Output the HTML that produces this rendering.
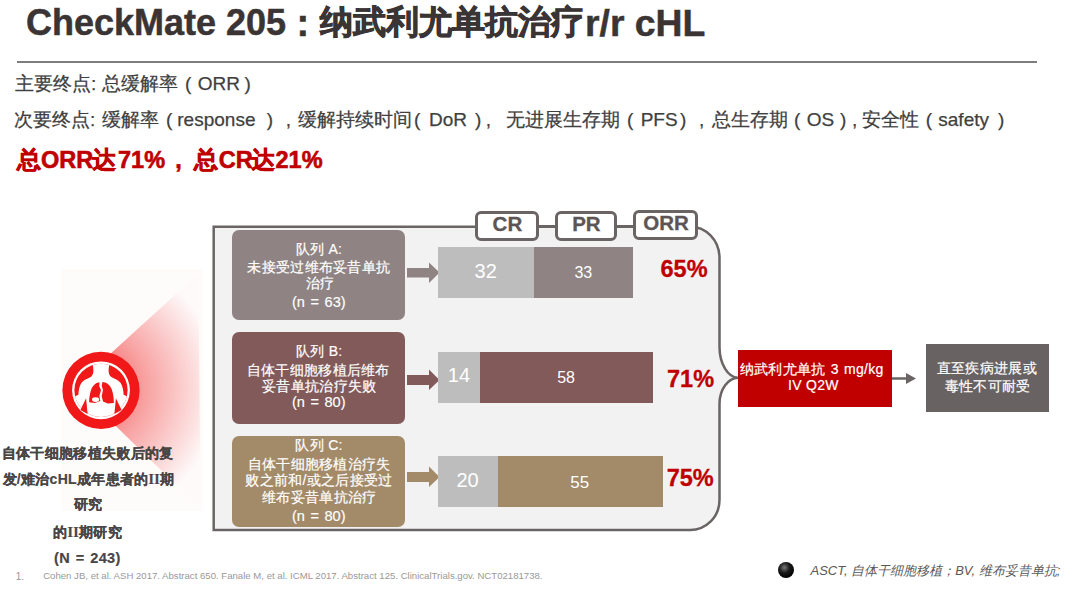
<!DOCTYPE html>
<html><head><meta charset="utf-8">
<style>
*{margin:0;padding:0;box-sizing:border-box}
html,body{width:1080px;height:590px;background:#fff;overflow:hidden;position:relative;font-family:"Liberation Sans",sans-serif}
.a{position:absolute;white-space:nowrap}
.tt{font-weight:bold;color:#3a3434;line-height:44px;-webkit-text-stroke:0.5px #3a3434}
#hr{left:17px;top:61.2px;width:1020px;height:2px;background:#7d7d7d}
.cohort{position:absolute;left:232px;width:173px;border-radius:7px;color:#fff;font-size:14.2px;line-height:17.4px;text-align:center;white-space:nowrap}
.bar{position:absolute;color:#fff;text-align:center;font-size:20px}
.tab{position:absolute;height:30px;border:3px solid #6b6464;border-radius:6px;background:#fff;font-weight:bold;font-size:19px;color:#5e5757;text-align:center;line-height:24px}
</style></head><body>
<div id="t_a" class="a tt" style="left:26px;top:1px;font-size:36px">CheckMate 205</div>
<div id="t_b" class="a tt" style="left:296.5px;top:1px;font-size:38px">:</div>
<div id="t_c" class="a tt" style="left:320px;top:0;font-size:33.3px;-webkit-text-stroke:0.9px #3a3434">纳武利尤单抗治疗</div>
<div id="t_d" class="a tt" style="left:585px;top:1px;font-size:37.3px">r/r cHL</div>
<div id="hr" class="a"></div>

<svg class="a" style="left:0;top:0" width="1080" height="590">
  <defs>
    <radialGradient id="rg" gradientUnits="userSpaceOnUse" cx="85" cy="388" r="135">
      <stop offset="0" stop-color="#f44848"/>
      <stop offset="0.45" stop-color="#f8a2a2"/>
      <stop offset="1" stop-color="#fefafa"/>
    </radialGradient>
    <radialGradient id="ball" cx="0.4" cy="0.35" r="0.65">
      <stop offset="0" stop-color="#777"/>
      <stop offset="0.5" stop-color="#1a1a1a"/>
      <stop offset="1" stop-color="#000"/>
    </radialGradient>
  </defs>
  <rect x="61" y="269" width="142" height="242" fill="#fefcfb"/>
  <polygon points="75,386 198.5,273.5 200.5,509" fill="url(#rg)"/>
  <path d="M213.7,226.8 H690 C706,226.8 719.5,240 719.5,258 V347 C719.5,364 728,377.2 738,377.8 C728,378.4 719.5,389 719.5,404 V500 C719.5,517 706,530 690,530 H213.7 Z" fill="#f2f2f2" stroke="#6b6464" stroke-width="2.5"/>
  <!-- tab connectors -->
  <!-- arrows -->
  <path d="M407,268 H429 V262.5 L439.5,272.5 L429,283 V277.5 H407 Z" fill="#8f8483"/>
  <path d="M407,375 H429 V369.5 L439.5,380 L429,390 V385 H407 Z" fill="#825a5a"/>
  <path d="M407,472 H429 V466.5 L439.5,477 L429,487 V482 H407 Z" fill="#a38b69"/>
  <!-- right arrow -->
  <path d="M891,378.5 H908" stroke="#6b6464" stroke-width="2.5"/>
  <path d="M906,373 L916,378.5 L906,384 Z" fill="#6b6464"/>
  <!-- icon -->
  <g transform="translate(101,390.3)">
    <clipPath id="inner"><circle r="26.6"/></clipPath>
    <circle r="38.6" fill="#f01818"/>
    <circle r="28.9" fill="#fff"/>
    <circle r="26.6" fill="#f01818"/>
    <g clip-path="url(#inner)">
      <path d="M-8.2,-35 L-8,-24 C-7.2,-19 -7.5,-15.5 -10,-13.6 C-13,-11.5 -17,-11 -19.5,-7.5 C-21.8,-4 -22.4,0 -22.6,4.5 L-40,12 L-40,40 L40,40 L40,12 L22.6,4.5 C22.4,0 21.8,-4 19.5,-7.5 C17,-11 13,-11.5 10,-13.6 C7.5,-15.5 7.2,-19 8,-24 L8.2,-35 Z" fill="#fff"/>
    </g>
    <path d="M-1.4,-7.9 C-4.5,-7.9 -7.5,-6 -9.5,-1.5 C-11,2 -11.8,7 -11.9,12 L-6.1,12.6 L-0.7,10.8 L-1.6,5.8 L0,-0.4 L-1.8,-4.3 Z" fill="#f01818"/>
    <path d="M1.4,-8.2 C5,-8 8.5,-6 10.5,-1.5 C12,2 12.8,7 12.9,12.6 L6.8,13.3 L2,11.3 L0.7,5.8 L2,-0.4 L0.7,-4.3 Z" fill="#f01818"/>
    <ellipse cx="-5.4" cy="9.3" rx="3.6" ry="2.4" fill="#fff"/>
    <path d="M-14.9,7.9 L-20.6,19.6 L-13.4,23.6 Z" fill="#f01818"/>
    <path d="M14.9,7.9 L20.6,19.6 L13.4,23.6 Z" fill="#f01818"/>
  </g>
  <circle cx="786" cy="570" r="8" fill="url(#ball)"/>
</svg>

<div class="cohort" style="top:230px;height:90px;background:#8f8483;padding-top:10px"></div>
<div class="cohort" style="top:332px;height:92px;background:#825a5a;padding-top:10px"></div>
<div class="cohort" style="top:436px;height:90.5px;background:#a38b69;padding-top:1px"></div>

<div class="bar" style="left:438px;top:246.5px;width:95.5px;height:51.5px;background:#bdbdbd;line-height:51px"></div>
<div class="bar" style="left:533.5px;top:246.5px;width:99px;height:51.5px;background:#8f8483;line-height:55px;font-size:16px"></div>
<div class="bar" style="left:438px;top:352px;width:42px;height:51px;background:#bdbdbd;line-height:51px"></div>
<div class="bar" style="left:480px;top:352px;width:173px;height:51px;background:#825a5a;line-height:55px;font-size:16px"></div>
<div class="bar" style="left:438px;top:455.5px;width:60px;height:51.5px;background:#bdbdbd;line-height:51px"></div>
<div class="bar" style="left:498px;top:455.5px;width:165px;height:51.5px;background:#a38b69;line-height:55px;font-size:16px"></div>


<div style="position:absolute;left:538px;top:225px;width:18px;height:2.5px;background:#6b6464"></div>
<div style="position:absolute;left:616px;top:225px;width:18px;height:2.5px;background:#6b6464"></div>
<div class="tab" style="left:475px;top:211px;width:63.5px"></div>
<div class="tab" style="left:554.5px;top:211px;width:62.5px"></div>
<div class="tab" style="left:632.5px;top:209.5px;width:65px"></div>

<div class="a" style="left:738px;top:350px;width:154px;height:56.5px;background:#c00000;color:#fff;font-size:14.5px;line-height:17px;text-align:center;padding-top:11px"></div>
<div class="a" style="left:926px;top:343.5px;width:123px;height:68px;background:#686262;color:#fff;font-size:14.3px;line-height:18px;text-align:center;padding-top:15px"></div>

<!--LINES-->
<div class="a" style="left:15.0px;top:54.3px;line-height:60px;font-size:19px;color:#404040;-webkit-text-stroke:0.25px #404040">主要终点:</div>
<div class="a" style="left:102.2px;top:54.3px;line-height:60px;font-size:19px;color:#404040;-webkit-text-stroke:0.25px #404040">总缓解率</div>
<div class="a" style="left:185.0px;top:54.3px;line-height:60px;font-size:19px;color:#404040;-webkit-text-stroke:0.25px #404040">(</div>
<div class="a" style="left:197.7px;top:54.3px;line-height:60px;font-size:19px;color:#404040;-webkit-text-stroke:0.25px #404040">ORR</div>
<div class="a" style="left:244.4px;top:54.3px;line-height:60px;font-size:19px;color:#404040;-webkit-text-stroke:0.25px #404040">)</div>
<div class="a" style="left:14.0px;top:90.3px;line-height:60px;font-size:19px;color:#404040;-webkit-text-stroke:0.25px #404040">次要终点:</div>
<div class="a" style="left:101.7px;top:90.3px;line-height:60px;font-size:19px;color:#404040;-webkit-text-stroke:0.25px #404040">缓解率</div>
<div class="a" style="left:166.0px;top:90.3px;line-height:60px;font-size:19px;color:#404040;-webkit-text-stroke:0.25px #404040">(</div>
<div class="a" style="left:177.3px;top:90.3px;line-height:60px;font-size:19px;color:#404040;-webkit-text-stroke:0.25px #404040">response</div>
<div class="a" style="left:266.7px;top:90.3px;line-height:60px;font-size:19px;color:#404040;-webkit-text-stroke:0.25px #404040">)</div>
<div class="a" style="left:285.7px;top:90.3px;line-height:60px;font-size:19px;color:#404040;-webkit-text-stroke:0.25px #404040">,</div>
<div class="a" style="left:298.3px;top:90.3px;line-height:60px;font-size:19px;color:#404040;-webkit-text-stroke:0.25px #404040">缓解持续时间</div>
<div class="a" style="left:414.0px;top:90.3px;line-height:60px;font-size:19px;color:#404040;-webkit-text-stroke:0.25px #404040">(</div>
<div class="a" style="left:429.0px;top:90.3px;line-height:60px;font-size:19px;color:#404040;-webkit-text-stroke:0.25px #404040">DoR</div>
<div class="a" style="left:475.0px;top:90.3px;line-height:60px;font-size:19px;color:#404040;-webkit-text-stroke:0.25px #404040">)</div>
<div class="a" style="left:485.7px;top:90.3px;line-height:60px;font-size:19px;color:#404040;-webkit-text-stroke:0.25px #404040">,</div>
<div class="a" style="left:505.7px;top:90.3px;line-height:60px;font-size:19px;color:#404040;-webkit-text-stroke:0.25px #404040">无进展生存期</div>
<div class="a" style="left:627.0px;top:90.3px;line-height:60px;font-size:19px;color:#404040;-webkit-text-stroke:0.25px #404040">(</div>
<div class="a" style="left:640.7px;top:90.3px;line-height:60px;font-size:19px;color:#404040;-webkit-text-stroke:0.25px #404040">PFS</div>
<div class="a" style="left:680.0px;top:90.3px;line-height:60px;font-size:19px;color:#404040;-webkit-text-stroke:0.25px #404040">)</div>
<div class="a" style="left:699.0px;top:90.3px;line-height:60px;font-size:19px;color:#404040;-webkit-text-stroke:0.25px #404040">,</div>
<div class="a" style="left:711.7px;top:90.3px;line-height:60px;font-size:19px;color:#404040;-webkit-text-stroke:0.25px #404040">总生存期</div>
<div class="a" style="left:794.0px;top:90.3px;line-height:60px;font-size:19px;color:#404040;-webkit-text-stroke:0.25px #404040">(</div>
<div class="a" style="left:806.7px;top:90.3px;line-height:60px;font-size:19px;color:#404040;-webkit-text-stroke:0.25px #404040">OS</div>
<div class="a" style="left:840.0px;top:90.3px;line-height:60px;font-size:19px;color:#404040;-webkit-text-stroke:0.25px #404040">)</div>
<div class="a" style="left:852.0px;top:90.3px;line-height:60px;font-size:19px;color:#404040;-webkit-text-stroke:0.25px #404040">,</div>
<div class="a" style="left:861.7px;top:90.3px;line-height:60px;font-size:19px;color:#404040;-webkit-text-stroke:0.25px #404040">安全性</div>
<div class="a" style="left:925.7px;top:90.3px;line-height:60px;font-size:19px;color:#404040;-webkit-text-stroke:0.25px #404040">(</div>
<div class="a" style="left:938.3px;top:90.3px;line-height:60px;font-size:19px;color:#404040;-webkit-text-stroke:0.25px #404040">safety</div>
<div class="a" style="left:998.0px;top:90.3px;line-height:60px;font-size:19px;color:#404040;-webkit-text-stroke:0.25px #404040">)</div>
<div class="a" style="left:16.7px;top:130.4px;line-height:60px;font-size:23.5px;font-weight:bold;color:#c00000;-webkit-text-stroke:0.6px #c00000">总</div>
<div class="a" style="left:40.9px;top:130.4px;line-height:60px;font-size:23.5px;font-weight:bold;color:#c00000;-webkit-text-stroke:0.6px #c00000">ORR</div>
<div class="a" style="left:92.3px;top:130.4px;line-height:60px;font-size:23.5px;font-weight:bold;color:#c00000;-webkit-text-stroke:0.6px #c00000">达</div>
<div class="a" style="left:118.0px;top:130.4px;line-height:60px;font-size:23.5px;font-weight:bold;color:#c00000;-webkit-text-stroke:0.6px #c00000">71%</div>
<div class="a" style="left:175.3px;top:130.4px;line-height:60px;font-size:23.5px;font-weight:bold;color:#c00000;-webkit-text-stroke:0.6px #c00000">,</div>
<div class="a" style="left:193.7px;top:130.4px;line-height:60px;font-size:23.5px;font-weight:bold;color:#c00000;-webkit-text-stroke:0.6px #c00000">总</div>
<div class="a" style="left:218.8px;top:130.4px;line-height:60px;font-size:23.5px;font-weight:bold;color:#c00000;-webkit-text-stroke:0.6px #c00000">CR</div>
<div class="a" style="left:251.3px;top:130.4px;line-height:60px;font-size:23.5px;font-weight:bold;color:#c00000;-webkit-text-stroke:0.6px #c00000">达</div>
<div class="a" style="left:275.5px;top:130.4px;line-height:60px;font-size:23.5px;font-weight:bold;color:#c00000;-webkit-text-stroke:0.6px #c00000">21%</div>
<div class="a" style="left:295.6px;top:218.8px;line-height:60px;font-size:14px;letter-spacing:0.3px;color:#fff;-webkit-text-stroke:0.2px #fff">队列 A:</div>
<div class="a" style="left:247.4px;top:237.4px;line-height:60px;font-size:14px;letter-spacing:0.3px;color:#fff;-webkit-text-stroke:0.2px #fff">未接受过维布妥昔单抗</div>
<div class="a" style="left:305.5px;top:253.4px;line-height:60px;font-size:14px;letter-spacing:0.3px;color:#fff;-webkit-text-stroke:0.2px #fff">治疗</div>
<div class="a" style="left:292.0px;top:271.8px;line-height:60px;font-size:14.6px;word-spacing:1.5px;color:#fff;-webkit-text-stroke:0.15px #fff">(n = 63)</div>
<div class="a" style="left:295.9px;top:320.6px;line-height:60px;font-size:14px;letter-spacing:0.3px;color:#fff;-webkit-text-stroke:0.2px #fff">队列 B:</div>
<div class="a" style="left:246.8px;top:339.9px;line-height:60px;font-size:14px;letter-spacing:0.3px;color:#fff;-webkit-text-stroke:0.2px #fff">自体干细胞移植后维布</div>
<div class="a" style="left:262.2px;top:356.2px;line-height:60px;font-size:14px;letter-spacing:0.3px;color:#fff;-webkit-text-stroke:0.2px #fff">妥昔单抗治疗失败</div>
<div class="a" style="left:291.9px;top:371.7px;line-height:60px;font-size:14.6px;word-spacing:1.5px;color:#fff;-webkit-text-stroke:0.15px #fff">(n = 80)</div>
<div class="a" style="left:295.4px;top:414.8px;line-height:60px;font-size:14px;letter-spacing:0.3px;color:#fff;-webkit-text-stroke:0.2px #fff">队列 C:</div>
<div class="a" style="left:247.7px;top:433.9px;line-height:60px;font-size:14px;letter-spacing:0.3px;color:#fff;-webkit-text-stroke:0.2px #fff">自体干细胞移植治疗失</div>
<div class="a" style="left:245.4px;top:449.9px;line-height:60px;font-size:14px;letter-spacing:0.3px;color:#fff;-webkit-text-stroke:0.2px #fff">败之前和/或之后接受过</div>
<div class="a" style="left:262.1px;top:466.7px;line-height:60px;font-size:14px;letter-spacing:0.3px;color:#fff;-webkit-text-stroke:0.2px #fff">维布妥昔单抗治疗</div>
<div class="a" style="left:291.9px;top:485.7px;line-height:60px;font-size:14.6px;word-spacing:1.5px;color:#fff;-webkit-text-stroke:0.15px #fff">(n = 80)</div>
<div class="a" style="left:1.9px;top:422.8px;line-height:60px;font-size:14px;letter-spacing:0.3px;font-weight:bold;color:#4a4545;-webkit-text-stroke:0.2px #4a4545">自体干细胞移植失败后的复</div>
<div class="a" style="left:2.5px;top:448.7px;line-height:60px;font-size:14px;letter-spacing:0.3px;font-weight:bold;color:#4a4545;-webkit-text-stroke:0.2px #4a4545">发/难治cHL成年患者的<span style="font-family:&quot;Liberation Serif&quot;,serif">II</span>期</div>
<div class="a" style="left:73.5px;top:473.7px;line-height:60px;font-size:14px;letter-spacing:0.3px;font-weight:bold;color:#4a4545;-webkit-text-stroke:0.2px #4a4545">研究</div>
<div class="a" style="left:53.2px;top:501.5px;line-height:60px;font-size:14px;letter-spacing:0.3px;font-weight:bold;color:#4a4545;-webkit-text-stroke:0.2px #4a4545">的<span style="font-family:&quot;Liberation Serif&quot;,serif">II</span>期研究</div>
<div class="a" style="left:54.0px;top:528.2px;line-height:60px;font-size:14px;letter-spacing:0.3px;font-weight:bold;color:#4a4545;-webkit-text-stroke:0.2px #4a4545;font-size:14.5px;word-spacing:1.5px">(N = 243)</div>
<div class="a" style="left:492.6px;top:194.1px;line-height:60px;font-size:20.5px;font-weight:bold;color:#5d5555;-webkit-text-stroke:0.3px #5d5555">CR</div>
<div class="a" style="left:572.2px;top:194.1px;line-height:60px;font-size:20.5px;font-weight:bold;color:#5d5555;-webkit-text-stroke:0.3px #5d5555">PR</div>
<div class="a" style="left:643.3px;top:192.9px;line-height:60px;font-size:20.5px;font-weight:bold;color:#5d5555;-webkit-text-stroke:0.3px #5d5555">ORR</div>
<div class="a" style="left:660.5px;top:239.0px;line-height:60px;font-size:23.5px;font-weight:bold;color:#c00000;-webkit-text-stroke:0.3px #c00000">65%</div>
<div class="a" style="left:667.0px;top:349.1px;line-height:60px;font-size:23.5px;font-weight:bold;color:#c00000;-webkit-text-stroke:0.3px #c00000">71%</div>
<div class="a" style="left:666.7px;top:447.7px;line-height:60px;font-size:23.5px;font-weight:bold;color:#c00000;-webkit-text-stroke:0.3px #c00000">75%</div>
<div class="a" style="left:474.6px;top:240.5px;line-height:60px;color:#fff;font-size:20px">32</div>
<div class="a" style="left:574.4px;top:243.3px;line-height:60px;color:#fff;font-size:16px">33</div>
<div class="a" style="left:447.8px;top:345.2px;line-height:60px;color:#fff;font-size:20px">14</div>
<div class="a" style="left:557.2px;top:347.6px;line-height:60px;color:#fff;font-size:16px">58</div>
<div class="a" style="left:456.5px;top:450.3px;line-height:60px;color:#fff;font-size:20px">20</div>
<div class="a" style="left:570.2px;top:452.6px;line-height:60px;color:#fff;font-size:17px">55</div>
<div class="a" style="left:739.7px;top:338.6px;line-height:60px;font-size:14px;letter-spacing:0.3px;color:#fff;-webkit-text-stroke:0.2px #fff;word-spacing:1px">纳武利尤单抗 3 mg/kg</div>
<div class="a" style="left:788.0px;top:355.4px;line-height:60px;font-size:14px;letter-spacing:0.3px;color:#fff;-webkit-text-stroke:0.2px #fff">IV Q2W</div>
<div class="a" style="left:936.9px;top:337.5px;line-height:60px;font-size:14px;letter-spacing:0.3px;color:#fff;-webkit-text-stroke:0.2px #fff">直至疾病进展或</div>
<div class="a" style="left:944.9px;top:356.0px;line-height:60px;font-size:14px;letter-spacing:0.3px;color:#fff;-webkit-text-stroke:0.2px #fff">毒性不可耐受</div>
<div class="a" style="left:15.8px;top:547.2px;line-height:60px;font-size:10px;color:#999">1.</div>
<div class="a" style="left:43.2px;top:546.2px;line-height:60px;font-size:9.6px;color:#999">Cohen JB, et al. ASH 2017. Abstract 650. Fanale M, et al. ICML 2017. Abstract 125. ClinicalTrials.gov. NCT02181738.</div>
<div class="a" style="left:810.5px;top:541.4px;line-height:60px;font-size:13px;font-style:italic;color:#595959">ASCT, 自体干细胞移植；BV, 维布妥昔单抗;</div>
<!--/LINES-->
</body></html>
